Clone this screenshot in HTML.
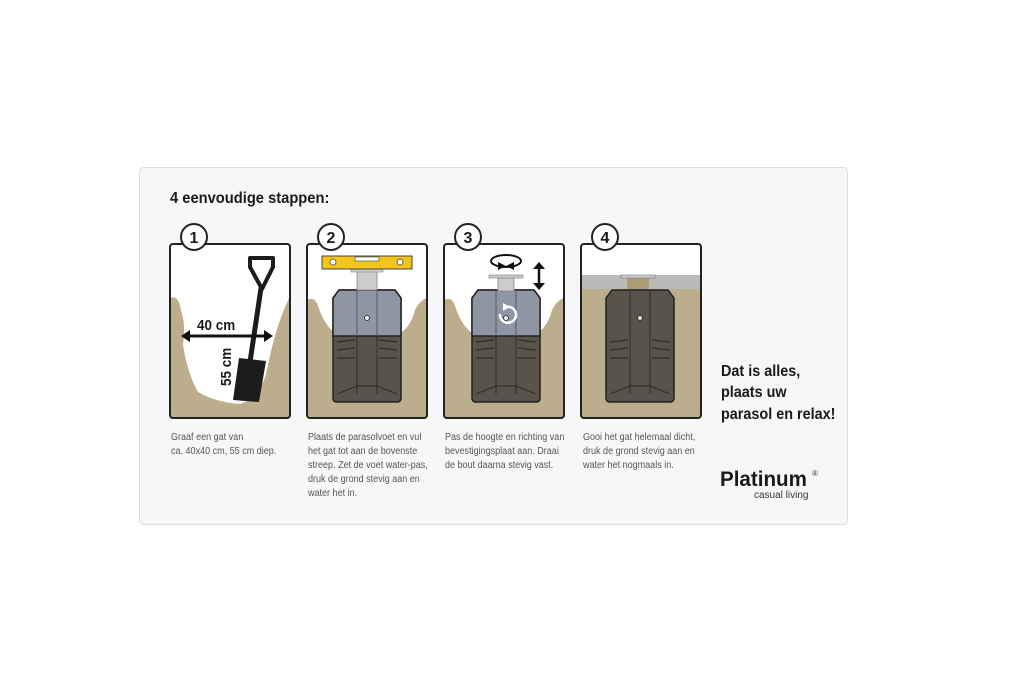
<!DOCTYPE html>
<html><head><meta charset="utf-8"><style>
html,body{margin:0;padding:0;background:#fff;}
svg{display:block;}
.cap{font-family:"Liberation Sans",sans-serif;font-size:10.5px;fill:#555;}
.b{font-family:"Liberation Sans",sans-serif;font-weight:bold;fill:#1a1a1a;}
</style></head><body>
<svg width="1024" height="683" viewBox="0 0 1024 683" xmlns="http://www.w3.org/2000/svg">
<defs>
<g id="foot">
  <path d="M6,0 H62 L68,8 V108 Q68,112 64,112 H4 Q0,112 0,108 V8 Z" fill="#58544b" stroke="#222" stroke-width="1.5"/>
  <path d="M24,0 V104 M44,0 V104 M4,104 L24,96 H44 L64,104" stroke="#2e2c27" stroke-width="1" fill="none"/>
  <path d="M4,52 L22,50 M4,60 L22,58 M4,68 L22,68 M46,50 L64,52 M46,58 L64,60 M46,68 L64,68" stroke="#2e2c27" stroke-width="1.2" fill="none"/>
  <circle cx="34" cy="28" r="2.5" fill="#ddd" stroke="#222" stroke-width="0.8"/>
</g>
<g id="footTop">
  <path d="M6,0 H62 L68,8 V46 H0 V8 Z" fill="#8e96a4" stroke="#222" stroke-width="1.5"/>
  <path d="M24,0 V46 M44,0 V46" stroke="#556" stroke-width="1" fill="none"/>
  <circle cx="34" cy="28" r="2.5" fill="#eee" stroke="#222" stroke-width="0.8"/>
</g>
</defs>
<rect x="139.5" y="167.5" width="708" height="357" rx="4" fill="#f7f7f7" stroke="#dedede"/>
<g transform="translate(170,203) scale(0.92,1)"><text x="0" y="0" class="b" font-size="16">4 eenvoudige stappen:</text></g>

<!-- panel 1 -->
<rect x="170" y="244" width="120" height="174" fill="#fff"/>
<path d="M170,298 Q178,294 181,310 Q186,325 183,345 Q188,375 198,392 Q215,402 240,404 Q262,398 268,365 Q276,325 290,296 V418 H170 Z" fill="#bcae8c"/>
<path d="M262,289 L250,267 V258 H273 V267 Z" fill="none" stroke="#1c1c1c" stroke-width="4" stroke-linejoin="round"/>
<path d="M261,288 L250,362" stroke="#1c1c1c" stroke-width="5"/>
<path d="M239,358 L266,361 L259,402 L233,400 Z" fill="#1c1c1c"/>
<path d="M185,336 H269" stroke="#111" stroke-width="3"/>
<path d="M181,336 L190,330 V342 Z M273,336 L264,330 V342 Z" fill="#111"/>
<g transform="translate(197,330) scale(0.9,1)"><text x="0" y="0" class="b" font-size="15">40 cm</text></g>
<g transform="translate(231,386) rotate(-90) scale(0.9,1)"><text x="0" y="0" class="b" font-size="15">55 cm</text></g>
<rect x="170" y="244" width="120" height="174" rx="3" fill="none" stroke="#222" stroke-width="2"/>
<circle cx="194" cy="237" r="13" fill="#fff" stroke="#222" stroke-width="2"/>
<text x="194" y="243" class="b" font-size="16" text-anchor="middle">1</text>

<!-- panel 2 -->
<rect x="307" y="244" width="120" height="174" fill="#fff"/>
<path d="M307,300 Q315,296 318,306 Q326,330 340,336 H395 Q410,330 415,310 Q420,300 427,298 V418 H307 Z" fill="#bcae8c"/>
<use href="#foot" x="333" y="290"/>
<use href="#footTop" x="333" y="290"/>
<rect x="357" y="270" width="20" height="20" fill="#c9cbcd" stroke="#888" stroke-width="0.8"/>
<rect x="351" y="269" width="32" height="3" fill="#ccc" stroke="#888" stroke-width="0.6"/>
<rect x="322" y="256" width="90" height="13" fill="#f2c518" stroke="#444" stroke-width="1"/>
<circle cx="333" cy="262" r="3" fill="#fff" stroke="#444" stroke-width="0.8"/>
<circle cx="400" cy="262" r="3" fill="#fff" stroke="#444" stroke-width="0.8"/>
<rect x="355" y="257" width="24" height="4" fill="#fff" stroke="#444" stroke-width="0.6"/>
<rect x="307" y="244" width="120" height="174" rx="3" fill="none" stroke="#222" stroke-width="2"/>
<circle cx="331" cy="237" r="13" fill="#fff" stroke="#222" stroke-width="2"/>
<text x="331" y="243" class="b" font-size="16" text-anchor="middle">2</text>

<!-- panel 3 -->
<rect x="444" y="244" width="120" height="174" fill="#fff"/>
<path d="M444,300 Q452,296 455,306 Q463,330 477,336 H532 Q547,330 552,310 Q557,300 564,298 V418 H444 Z" fill="#bcae8c"/>
<use href="#foot" x="472" y="290"/>
<use href="#footTop" x="472" y="290"/>
<rect x="498" y="277" width="16" height="14" fill="#c9cbcd" stroke="#888" stroke-width="0.8"/>
<rect x="489" y="275" width="34" height="3" fill="#ccc" stroke="#777" stroke-width="0.6"/>
<path d="M500,314 A8,8 0 1,0 506,307" fill="none" stroke="#fff" stroke-width="2.5"/>
<path d="M503,303 L510,307 L503,311 Z" fill="#fff"/>
<ellipse cx="506" cy="261" rx="15" ry="6" fill="none" stroke="#111" stroke-width="2"/>
<path d="M498,262 L506,266 L498,270 Z M514,262 L506,266 L514,270 Z" fill="#111"/>
<path d="M539,267 V285" stroke="#111" stroke-width="2.5"/>
<path d="M533,269 L539,262 L545,269 Z M533,283 L539,290 L545,283 Z" fill="#111"/>
<rect x="444" y="244" width="120" height="174" rx="3" fill="none" stroke="#222" stroke-width="2"/>
<circle cx="468" cy="237" r="13" fill="#fff" stroke="#222" stroke-width="2"/>
<text x="468" y="243" class="b" font-size="16" text-anchor="middle">3</text>

<!-- panel 4 -->
<rect x="581" y="244" width="120" height="174" fill="#fff"/>
<rect x="581" y="275" width="120" height="14" fill="#b9bbb8"/>
<rect x="581" y="289" width="120" height="129" fill="#bcae8c"/>
<rect x="627" y="277" width="22" height="14" fill="#a99c76"/>
<rect x="621" y="275" width="34" height="3" fill="#ccc" stroke="#777" stroke-width="0.6"/>
<use href="#foot" x="606" y="290"/>
<rect x="581" y="244" width="120" height="174" rx="3" fill="none" stroke="#222" stroke-width="2"/>
<circle cx="605" cy="237" r="13" fill="#fff" stroke="#222" stroke-width="2"/>
<text x="605" y="243" class="b" font-size="16" text-anchor="middle">4</text>

<!-- captions -->
<g transform="translate(171,0) scale(0.86,1)"><text class="cap"><tspan x="0" y="440">Graaf een gat van</tspan><tspan x="0" y="454">ca. 40x40 cm, 55 cm diep.</tspan></text></g>
<g transform="translate(308,0) scale(0.86,1)"><text class="cap"><tspan x="0" y="440">Plaats de parasolvoet en vul</tspan><tspan x="0" y="454">het gat tot aan de bovenste</tspan><tspan x="0" y="468">streep. Zet de voet water-pas,</tspan><tspan x="0" y="482">druk de grond stevig aan en</tspan><tspan x="0" y="496">water het in.</tspan></text></g>
<g transform="translate(445,0) scale(0.86,1)"><text class="cap"><tspan x="0" y="440">Pas de hoogte en richting van</tspan><tspan x="0" y="454">bevestigingsplaat aan. Draai</tspan><tspan x="0" y="468">de bout daarna stevig vast.</tspan></text></g>
<g transform="translate(583,0) scale(0.86,1)"><text class="cap"><tspan x="0" y="440">Gooi het gat helemaal dicht,</tspan><tspan x="0" y="454">druk de grond stevig aan en</tspan><tspan x="0" y="468">water het nogmaals in.</tspan></text></g>

<g transform="translate(721,0) scale(0.9,1)"><text class="b" font-size="16"><tspan x="0" y="376">Dat is alles,</tspan><tspan x="0" y="397">plaats uw</tspan><tspan x="0" y="419">parasol en relax!</tspan></text></g>
<g transform="translate(720,486) scale(0.98,1)"><text x="0" y="0" class="b" font-size="21" fill="#222">Platinum</text></g>
<text x="812" y="476" font-family="Liberation Sans,sans-serif" font-size="8" fill="#333">®</text>
<text x="754" y="498" font-family="Liberation Sans,sans-serif" font-size="10" fill="#333">casual living</text>
</svg>
</body></html>
